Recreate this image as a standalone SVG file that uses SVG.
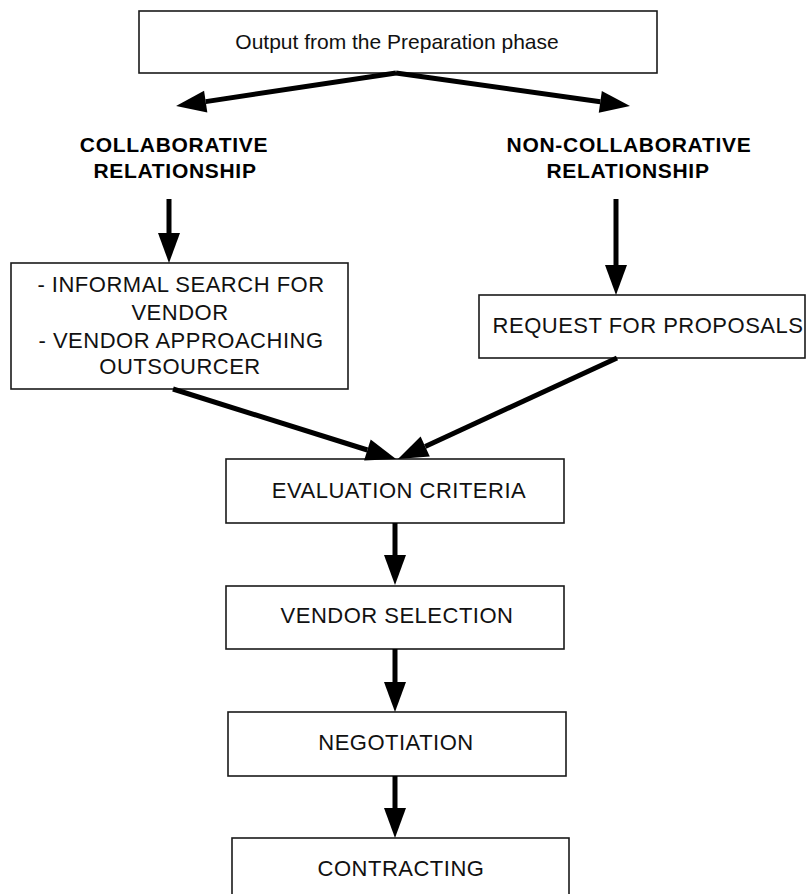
<svg xmlns="http://www.w3.org/2000/svg" width="806" height="894" viewBox="0 0 806 894">
  <style>
    .box { fill: #ffffff; stroke: #1a1a1a; stroke-width: 1.6; }
    .txt { font-family: "Liberation Sans", Arial, sans-serif; font-size: 22px; fill: #111111; text-anchor: middle; letter-spacing: 0.5px; }
    .top { font-family: "Liberation Sans", Arial, sans-serif; font-size: 21px; fill: #111111; text-anchor: middle; }
    .lbl { font-family: "Liberation Sans", Arial, sans-serif; font-size: 21px; font-weight: bold; fill: #000000; text-anchor: middle; letter-spacing: 0.7px; }
    .conn { stroke: #000000; stroke-width: 5; fill: none; marker-end: url(#arrow); }
  </style>
  <defs>
    <marker id="arrow" markerUnits="userSpaceOnUse" markerWidth="32" markerHeight="24" viewBox="0 -12 32 24" refX="0" refY="0" orient="auto" overflow="visible">
      <path d="M0,-11 L30,0 L0,11 Z" fill="#000000"/>
    </marker>
  </defs>
  <rect width="806" height="894" fill="#ffffff"/>

  <g id="output">
    <rect class="box" x="139" y="11" width="518" height="62"/>
    <text class="top" x="397" y="49">Output from the Preparation phase</text>
  </g>

  <g id="collaborative">
    <text class="lbl" x="174" y="152">COLLABORATIVE</text>
    <text class="lbl" x="175" y="178">RELATIONSHIP</text>
  </g>

  <g id="non-collaborative">
    <text class="lbl" x="629" y="152">NON-COLLABORATIVE</text>
    <text class="lbl" x="628" y="178">RELATIONSHIP</text>
  </g>

  <g id="informal">
    <rect class="box" x="11" y="263" width="337" height="126"/>
    <text class="txt" x="181" y="292">- INFORMAL SEARCH FOR</text>
    <text class="txt" x="180" y="320">VENDOR</text>
    <text class="txt" x="181" y="348">- VENDOR APPROACHING</text>
    <text class="txt" x="180" y="374">OUTSOURCER</text>
  </g>

  <g id="rfp">
    <rect class="box" x="479" y="295" width="326" height="63"/>
    <text class="txt" x="648" y="333">REQUEST FOR PROPOSALS</text>
  </g>

  <g id="evaluation">
    <rect class="box" x="226" y="459" width="338" height="64"/>
    <text class="txt" x="399" y="498">EVALUATION CRITERIA</text>
  </g>

  <g id="selection">
    <rect class="box" x="226" y="586" width="338" height="63"/>
    <text class="txt" x="397" y="623">VENDOR SELECTION</text>
  </g>

  <g id="negotiation">
    <rect class="box" x="228" y="712" width="338" height="64"/>
    <text class="txt" x="396" y="750">NEGOTIATION</text>
  </g>

  <g id="contracting">
    <rect class="box" x="232" y="838" width="337" height="70"/>
    <text class="txt" x="401" y="876">CONTRACTING</text>
  </g>

  <g id="connectors">
    <line class="conn" x1="396" y1="73" x2="205.7" y2="101.6"/>
    <line class="conn" x1="396" y1="73" x2="600.3" y2="101.8"/>
    <line class="conn" x1="169" y1="199" x2="169" y2="233"/>
    <line class="conn" x1="616" y1="199" x2="616" y2="265"/>
    <line class="conn" x1="173" y1="389" x2="367.4" y2="450"/>
    <line class="conn" x1="617" y1="358" x2="425.2" y2="446.4"/>
    <line class="conn" x1="395" y1="523" x2="395" y2="555"/>
    <line class="conn" x1="395" y1="649" x2="395" y2="682"/>
    <line class="conn" x1="395" y1="776" x2="395" y2="808"/>
  </g>
</svg>
